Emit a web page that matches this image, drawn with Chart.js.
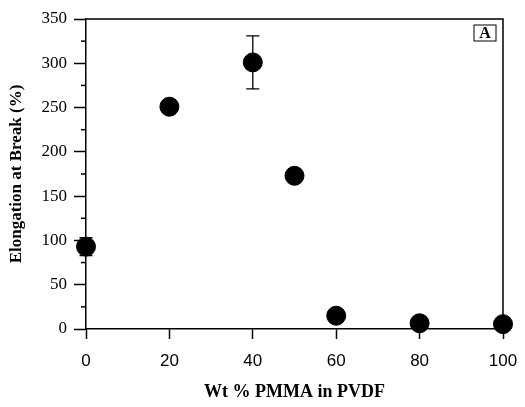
<!DOCTYPE html>
<html>
<head>
<meta charset="utf-8">
<script src="https://cdn.jsdelivr.net/npm/chart.js@4.4.1/dist/chart.umd.min.js"></script>
<style>
  html, body { margin: 0; padding: 0; background: #fff; }
  #wrap { width: 525px; height: 407px; }
</style>
</head>
<body>
<div id="wrap"><canvas id="elong-chart" width="525" height="407"></canvas></div>
<script>
const pmmaContent = [0, 20, 40, 50, 60, 80, 100];
const elongation = [93, 251, 301, 173, 15, 6.5, 5.5];
const errorBars = [10, 0, 30, 0, 0, 0, 0];
const yMinorTicks = [25, 75, 125, 175, 225, 275, 325];

const serif = '"Liberation Serif", "Times New Roman", serif';
const sans = '"Liberation Sans", Arial, sans-serif';

// error bars, minor ticks, frame and the "A" panel label
const extras = {
  id: 'extras',
  afterDatasetsDraw(chart) {
    const ctx = chart.ctx;
    const xs = chart.scales.x;
    const ys = chart.scales.y;
    const area = chart.chartArea;
    ctx.save();
    ctx.strokeStyle = '#000';
    ctx.lineWidth = 1.5;

    // frame top + right
    ctx.beginPath();
    ctx.moveTo(area.left, area.top);
    ctx.lineTo(area.right, area.top);
    ctx.lineTo(area.right, area.bottom);
    ctx.stroke();

    // minor ticks on y
    yMinorTicks.forEach(v => {
      const py = ys.getPixelForValue(v);
      ctx.beginPath();
      ctx.moveTo(area.left - 5, py);
      ctx.lineTo(area.left, py);
      ctx.stroke();
    });

    // error bars
    ctx.lineWidth = 1.3;
    pmmaContent.forEach((x, i) => {
      const e = errorBars[i];
      if (!e) return;
      const px = xs.getPixelForValue(x);
      const top = ys.getPixelForValue(elongation[i] + e);
      const bot = ys.getPixelForValue(elongation[i] - e);
      ctx.beginPath();
      ctx.moveTo(px, top);
      ctx.lineTo(px, bot);
      ctx.moveTo(px - 6.5, top);
      ctx.lineTo(px + 6.5, top);
      ctx.moveTo(px - 6.5, bot);
      ctx.lineTo(px + 6.5, bot);
      ctx.stroke();
    });

    // panel label
    ctx.lineWidth = 1;
    ctx.strokeRect(area.right - 29, area.top + 6, 22, 16);
    ctx.fillStyle = '#000';
    ctx.font = 'bold 16px ' + serif;
    ctx.textAlign = 'center';
    ctx.textBaseline = 'middle';
    ctx.fillText('A', area.right - 18, area.top + 15);
    ctx.restore();
  }
};

new Chart(document.getElementById('elong-chart'), {
  type: 'scatter',
  data: {
    datasets: [{
      data: pmmaContent.map((x, i) => ({ x: x, y: elongation[i] })),
      backgroundColor: '#000',
      borderColor: '#000',
      pointRadius: 9.5,
      pointHoverRadius: 9.5,
      clip: false
    }]
  },
  options: {
    responsive: false,
    animation: false,
    layout: { padding: { top: 19, right: 22, left: 0, bottom: 0 } },
    plugins: { legend: { display: false }, tooltip: { enabled: false } },
    scales: {
      x: {
        type: 'linear',
        min: 0,
        max: 100,
        afterFit: s => { s.height = 78; s.paddingRight = 0; s.paddingLeft = 0; },
        ticks: { stepSize: 20, color: '#000', font: { family: sans, size: 17 }, padding: 12, maxRotation: 0 },
        grid: { drawOnChartArea: false, tickLength: 10, tickColor: '#000', tickWidth: 1.5 },
        border: { color: '#000', width: 1.5 },
        title: {
          display: true,
          text: 'Wt % PMMA in PVDF',
          color: '#000',
          font: { family: serif, size: 18, weight: 'bold' },
          padding: { top: 0, bottom: 4 }
        }
      },
      y: {
        min: 0,
        max: 350,
        afterFit: s => { s.width = 86; s.paddingTop = 0; s.paddingBottom = 0; },
        ticks: { stepSize: 50, color: '#000', font: { family: serif, size: 17 }, padding: 7 },
        grid: { drawOnChartArea: false, tickLength: 12, tickColor: '#000', tickWidth: 1.5 },
        border: { color: '#000', width: 1.5 },
        title: {
          display: true,
          text: 'Elongation at Break (%)',
          color: '#000',
          font: { family: serif, size: 17, weight: 'bold' },
          padding: { top: 6, bottom: 0 }
        }
      }
    }
  },
  plugins: [extras]
});
</script>
</body>
</html>
